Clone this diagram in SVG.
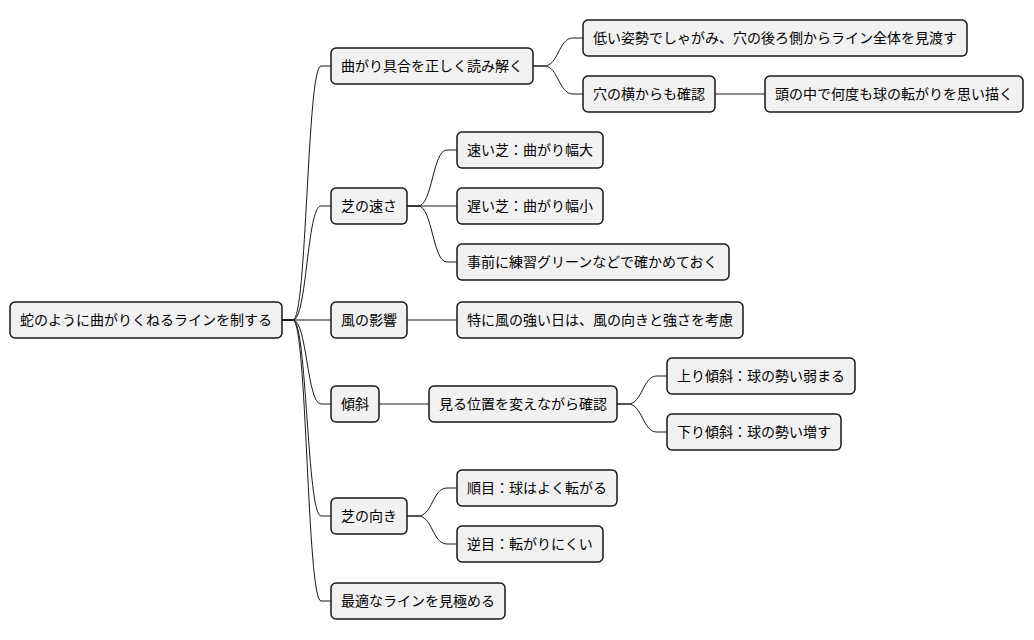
<svg xmlns="http://www.w3.org/2000/svg" width="1034" height="640" viewBox="0 0 1034 640">
<style>
  .node rect { fill: #f1f1f1; stroke: #181818; stroke-width: 1.5; }
  .node text { font-family: "Noto Sans CJK JP", "Noto Sans", sans-serif; font-size: 14px; fill: #000000; }
  #connectors path { fill: none; stroke: #181818; stroke-width: 1; }
</style>
<rect x="0" y="0" width="1034" height="640" fill="#ffffff"/>
<g id="connectors">
  <path d="M282,320 H293 C307,320 307,66 321,66 H331"/>
  <path d="M282,320 H293 C307,320 307,206 321,206 H331"/>
  <path d="M282,320 H331"/>
  <path d="M282,320 H293 C307,320 307,404 321,404 H331"/>
  <path d="M282,320 H293 C307,320 307,516 321,516 H331"/>
  <path d="M282,320 H293 C307,320 307,601 321,601 H331"/>
  <path d="M533,66 H544 C558.5,66 558.5,38 573,38 H583"/>
  <path d="M533,66 H544 C558.5,66 558.5,94 573,94 H583"/>
  <path d="M715,94 H765"/>
  <path d="M407,206 H418 C432.5,206 432.5,150 447,150 H457"/>
  <path d="M407,206 H457"/>
  <path d="M407,206 H418 C432.5,206 432.5,262 447,262 H457"/>
  <path d="M407,320 H457"/>
  <path d="M379,404 H429"/>
  <path d="M617,404 H628 C642.5,404 642.5,376 657,376 H667"/>
  <path d="M617,404 H628 C642.5,404 642.5,432 657,432 H667"/>
  <path d="M407,516 H418 C432.5,516 432.5,488 447,488 H457"/>
  <path d="M407,516 H418 C432.5,516 432.5,544 447,544 H457"/>
</g>
<g id="root" class="node"><rect x="10" y="302" width="272" height="36" rx="5"/><text x="20" y="324.5">蛇のように曲がりくねるラインを制する</text></g>
<g id="n-a" class="node"><rect x="331" y="48" width="202" height="36" rx="5"/><text x="341" y="70.5">曲がり具合を正しく読み解く</text></g>
<g id="n-a1" class="node"><rect x="583" y="20" width="384" height="36" rx="5"/><text x="593" y="42.5">低い姿勢でしゃがみ、穴の後ろ側からライン全体を見渡す</text></g>
<g id="n-a2" class="node"><rect x="583" y="76" width="132" height="36" rx="5"/><text x="593" y="98.5">穴の横からも確認</text></g>
<g id="n-a2a" class="node"><rect x="765" y="76" width="258" height="36" rx="5"/><text x="775" y="98.5">頭の中で何度も球の転がりを思い描く</text></g>
<g id="n-b" class="node"><rect x="331" y="188" width="76" height="36" rx="5"/><text x="341" y="210.5">芝の速さ</text></g>
<g id="n-b1" class="node"><rect x="457" y="132" width="146" height="36" rx="5"/><text x="467" y="154.5">速い芝：曲がり幅大</text></g>
<g id="n-b2" class="node"><rect x="457" y="188" width="146" height="36" rx="5"/><text x="467" y="210.5">遅い芝：曲がり幅小</text></g>
<g id="n-b3" class="node"><rect x="457" y="244" width="272" height="36" rx="5"/><text x="467" y="266.5">事前に練習グリーンなどで確かめておく</text></g>
<g id="n-c" class="node"><rect x="331" y="302" width="76" height="36" rx="5"/><text x="341" y="324.5">風の影響</text></g>
<g id="n-c1" class="node"><rect x="457" y="302" width="286" height="36" rx="5"/><text x="467" y="324.5">特に風の強い日は、風の向きと強さを考慮</text></g>
<g id="n-d" class="node"><rect x="331" y="386" width="48" height="36" rx="5"/><text x="341" y="408.5">傾斜</text></g>
<g id="n-d1" class="node"><rect x="429" y="386" width="188" height="36" rx="5"/><text x="439" y="408.5">見る位置を変えながら確認</text></g>
<g id="n-d1a" class="node"><rect x="667" y="358" width="188" height="36" rx="5"/><text x="677" y="380.5">上り傾斜：球の勢い弱まる</text></g>
<g id="n-d1b" class="node"><rect x="667" y="414" width="174" height="36" rx="5"/><text x="677" y="436.5">下り傾斜：球の勢い増す</text></g>
<g id="n-e" class="node"><rect x="331" y="498" width="76" height="36" rx="5"/><text x="341" y="520.5">芝の向き</text></g>
<g id="n-e1" class="node"><rect x="457" y="470" width="160" height="36" rx="5"/><text x="467" y="492.5">順目：球はよく転がる</text></g>
<g id="n-e2" class="node"><rect x="457" y="526" width="146" height="36" rx="5"/><text x="467" y="548.5">逆目：転がりにくい</text></g>
<g id="n-f" class="node"><rect x="331" y="583" width="174" height="36" rx="5"/><text x="341" y="605.5">最適なラインを見極める</text></g>
</svg>
